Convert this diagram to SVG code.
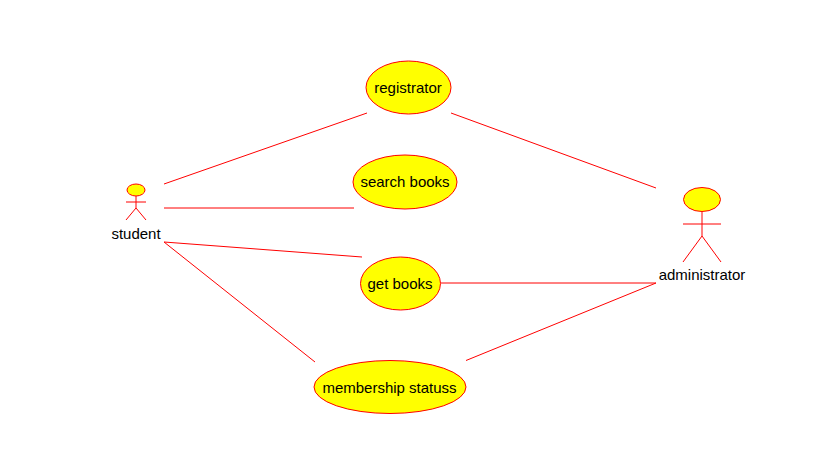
<svg xmlns="http://www.w3.org/2000/svg" width="822" height="462" viewBox="0 0 822 462">
<style>
.s{fill:none;stroke:#ff0000;stroke-width:1}
.e{fill:#ffff00;stroke:#ff0000;stroke-width:1}
text{font-family:"Liberation Sans",Arial,sans-serif;font-size:15px;fill:#000;text-anchor:middle}
</style>
<rect width="822" height="462" fill="#fff"/>
<g id="connectors" class="s">
<line x1="164" y1="184" x2="367" y2="113"/>
<line x1="164" y1="208" x2="354" y2="208"/>
<line x1="164" y1="242" x2="362" y2="257"/>
<line x1="164" y1="242" x2="315" y2="362"/>
<line x1="451" y1="113" x2="656" y2="188"/>
<line x1="441" y1="283" x2="656" y2="283"/>
<line x1="466" y1="360.500" x2="656" y2="283"/>
</g>
<g id="student">
<ellipse class="e" cx="136" cy="190" rx="9" ry="6"/>
<path class="s" d="M136 196V208M126 202H146M136 208L126 220M136 208L146 220"/>
<text x="136" y="239">student</text>
</g>
<g id="administrator">
<ellipse class="e" cx="702" cy="199.500" rx="18.500" ry="12"/>
<path class="s" d="M702 212V236M683 224H721M702 236L683 262M702 236L721 262"/>
<text x="702" y="280">administrator</text>
</g>
<g id="registrator"><ellipse class="e" cx="408.500" cy="87.500" rx="42.500" ry="26.500"/><text x="408" y="93">registrator</text></g>
<g id="search-books"><ellipse class="e" cx="405" cy="182" rx="52" ry="27"/><text x="405" y="187">search books</text></g>
<g id="get-books"><ellipse class="e" cx="400.500" cy="283.500" rx="40" ry="26.500"/><text x="400" y="289">get books</text></g>
<g id="membership-statuss"><ellipse class="e" cx="390" cy="387" rx="76" ry="26.500"/><text x="389.500" y="393">membership statuss</text></g>
</svg>
